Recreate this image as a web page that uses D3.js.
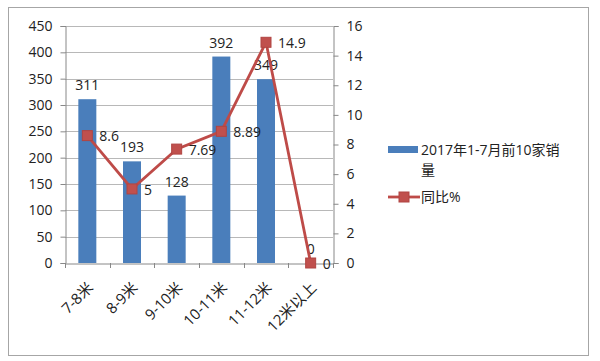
<!DOCTYPE html>
<html><head><meta charset="utf-8">
<script src="https://cdn.jsdelivr.net/npm/d3@7"></script>
<style>body{margin:0;background:#fff}svg{display:block}text{font-family:"Open Sans","Noto Sans CJK SC",sans-serif;fill:#222}</style>
</head><body>
<script>
const categories = ["7-8米","8-9米","9-10米","10-11米","11-12米","12米以上"];
const sales = [311,193,128,392,349,0];
const yoy = [8.6,5,7.69,8.89,14.9,0];
const yoyLabels = ["8.6","5","7.69","8.89","14.9","0"];
const leftTicks = [0,50,100,150,200,250,300,350,400,450];
const rightTicks = [0,2,4,6,8,10,12,14,16];
const legendNames = ["2017年1-7月前10家销","量","同比%"];

const W=600,H=361;
const svg=d3.select("body").append("svg").attr("width",W).attr("height",H);
svg.append("rect").attr("x",8.5).attr("y",7.5).attr("width",580).attr("height",348).attr("fill","#fff").attr("stroke","#a6a6a6");

const x0=65,x1=333,yTop=26,yBot=263;
const x=d3.scaleBand().domain(categories).range([x0,x1]);
const yL=d3.scaleLinear().domain([0,450]).range([yBot,yTop]);
const yR=d3.scaleLinear().domain([0,16]).range([yBot,yTop]);

// gridlines
svg.append("g").selectAll("line").data(leftTicks.slice(1)).join("line")
 .attr("x1",x0).attr("x2",x1).attr("y1",d=>Math.round(yL(d))+0.5).attr("y2",d=>Math.round(yL(d))+0.5)
 .attr("stroke","#b8b8b8");

// left axis
const gl=svg.append("g").attr("transform",`translate(${x0+0.5},0)`)
 .call(d3.axisLeft(yL).tickValues(leftTicks).tickSize(5).tickPadding(8));
gl.select(".domain").attr("stroke","#888");
gl.selectAll(".tick line").attr("stroke","#888");
gl.selectAll(".tick text").style("font-size","14px").attr("fill","#222");

// right axis
const gr=svg.append("g").attr("transform",`translate(${x1+0.5},0)`)
 .call(d3.axisRight(yR).tickValues(rightTicks).tickSize(5).tickPadding(8));
gr.select(".domain").attr("stroke","#888");
gr.selectAll(".tick line").attr("stroke","#888");
gr.selectAll(".tick text").style("font-size","14px").attr("fill","#222");

// bottom axis
const gb=svg.append("g").attr("transform",`translate(0,${yBot+0.5})`)
 .call(d3.axisBottom(x).tickSize(0).tickFormat(""));
gb.select(".domain").attr("stroke","#888");
svg.append("g").selectAll("line").data(d3.range(categories.length+1)).join("line")
 .attr("x1",i=>Math.round(x0+i*x.step())+0.5).attr("x2",i=>Math.round(x0+i*x.step())+0.5)
 .attr("y1",yBot).attr("y2",yBot+5).attr("stroke","#888");
svg.append("g").selectAll("text").data(categories).join("text")
 .attr("transform",d=>`translate(${x(d)+x.bandwidth()/2+3},${yBot+22}) rotate(-45)`)
 .attr("text-anchor","end").attr("dy","0.35em").style("font-size","15px").text(d=>d);

// bars
const bw=18;
svg.append("g").selectAll("rect").data(categories).join("rect")
 .attr("x",(d,i)=>x(d)+x.bandwidth()/2-bw/2).attr("width",bw)
 .attr("y",(d,i)=>yL(sales[i])).attr("height",(d,i)=>yBot-yL(sales[i]))
 .attr("fill","#4a7ebb");
svg.append("g").selectAll("text").data(categories).join("text")
 .attr("x",d=>x(d)+x.bandwidth()/2).attr("y",(d,i)=>yL(sales[i])-9)
 .attr("text-anchor","middle").style("font-size","14px").text((d,i)=>sales[i]);

// line
const line=d3.line().x((d,i)=>x(categories[i])+x.bandwidth()/2).y(d=>yR(d));
svg.append("path").datum(yoy).attr("d",line).attr("fill","none").attr("stroke","#be4b48").attr("stroke-width",2.8);
svg.append("g").selectAll("rect").data(yoy).join("rect")
 .attr("x",(d,i)=>x(categories[i])+x.bandwidth()/2-5).attr("y",d=>yR(d)-5)
 .attr("width",10).attr("height",10).attr("fill","#c0504d").attr("stroke","#b04542");
svg.append("g").selectAll("text").data(yoy).join("text")
 .attr("x",(d,i)=>x(categories[i])+x.bandwidth()/2+12).attr("y",d=>yR(d)).attr("dy","0.4em")
 .style("font-size","14px").text((d,i)=>yoyLabels[i]);

// legend
const lg=svg.append("g");
lg.append("rect").attr("x",388).attr("y",146).attr("width",30).attr("height",7).attr("fill","#4a7ebb");
lg.append("text").attr("x",421).attr("y",150).attr("dy","0.35em").style("font-size","14px").text(legendNames[0]);
lg.append("text").attr("x",421).attr("y",170).attr("dy","0.35em").style("font-size","14px").text(legendNames[1]);
lg.append("line").attr("x1",388).attr("x2",420).attr("y1",197).attr("y2",197).attr("stroke","#be4b48").attr("stroke-width",2.8);
lg.append("rect").attr("x",399).attr("y",192).attr("width",10).attr("height",10).attr("fill","#c0504d").attr("stroke","#b04542");
lg.append("text").attr("x",421).attr("y",197).attr("dy","0.35em").style("font-size","14px").text(legendNames[2]);
</script>
</body></html>
